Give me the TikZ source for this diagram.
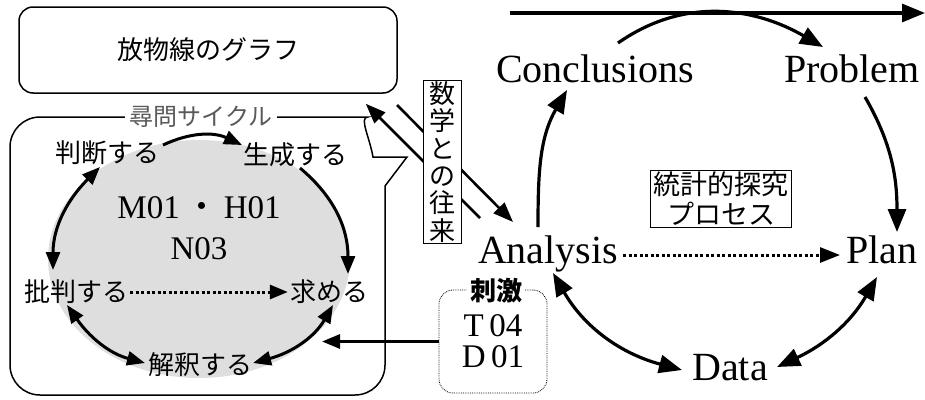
\documentclass[tikz,border=0pt]{standalone}
\usepackage{fontspec}
\setmainfont{Liberation Serif}
\newfontfamily\jp{Noto Sans CJK JP}
\usetikzlibrary{arrows.meta, positioning}

\tikzset{
  en/.style={font=\fontsize{40}{42}\selectfont, inner sep=0pt, anchor=base},
  ja/.style={font=\jp\fontsize{26}{28}\selectfont, inner sep=2pt},
  cyc/.style={line width=3pt, -{Triangle[length=18pt,width=14pt]}},
  cycb/.style={line width=3pt, {Triangle[length=18pt,width=14pt]}-{Triangle[length=18pt,width=14pt]}},
  big/.style={line width=3.2pt, -{Triangle[length=23pt,width=18pt]}},
  bigb/.style={line width=3.2pt, {Triangle[length=23pt,width=18pt]}-{Triangle[length=23pt,width=18pt]}},
  dots/.style={line width=3pt, dash pattern=on 3pt off 2.5pt, -{Triangle[length=18pt,width=14pt]}},
  diag/.style={line width=2.6pt, -{Triangle[length=20pt,width=15pt]}}
}

\begin{document}
\begin{tikzpicture}[x=1pt, y=1pt]
    \useasboundingbox (0,0) rectangle (925,-399);

    \node[ja, draw, line width=1.5pt, rounded corners=14pt, minimum width=378pt, minimum height=86pt] (para) at (208,-50) {放物線のグラフ};
    \draw[line width=1.5pt, rounded corners=30pt] (385,-250) -- (385,-395) -- (10,-395) -- (10,-117) -- (338,-117)
        [sharp corners] to[out=0, in=100] (373,-157) -- (407,-157) -- (385,-186) -- (385,-250);
    \node[font=\jp\fontsize{24}{26}\selectfont, text=black!65, fill=white, inner xsep=5pt, inner ysep=1pt] (cyct) at (201,-117) {尋問サイクル};
    \fill[black!13] (199,-259) ellipse [x radius=151, y radius=119];

    \node[ja] (judge) at (107,-153) {判断する};
    \node[ja] (gen) at (295,-155) {生成する};
    \node[ja] (crit) at (76,-292) {批判する};
    \node[ja] (seek) at (329,-292) {求める};
    \node[ja] (interp) at (200,-365) {解釈する};
    \node[font=\fontsize{33}{41}\selectfont, align=center] (codes) at (199,-228) {M01\,{\jp ・}\,H01\\N03};

    \draw[cyc] ([shift={(56,8)}]judge.center) to[bend left=25] ([shift={(-53,10)}]gen.center);
    \draw[cyc] ([shift={(5,-13)}]gen.center) to[out=-40, in=90] ([shift={(19,18)}]seek.center);
    \draw[cycb] ([shift={(-7,-14)}]judge.center) to[out=-135, in=90] ([shift={(-23,22)}]crit.center);
    \draw[cycb] ([shift={(-9,-13)}]crit.center) to[out=-55, in=165] ([shift={(-55,2)}]interp.center);
    \draw[cycb] ([shift={(4,-13)}]seek.center) to[out=-120, in=15] ([shift={(53,2)}]interp.center);
    \draw[dots] (crit.east) -- (seek.west);

    \node[en] (concl) at (595,-82) {Conclusions};
    \node[en] (prob) at (852,-82) {Problem};
    \node[en] (anal) at (548,-263) {Analysis};
    \node[en] (plan) at (882,-263) {Plan};
    \node[en] (data) at (730,-380) {Data};
    \node[ja, draw, line width=0.8pt, align=center, font=\jp\fontsize{27}{30}\selectfont, inner xsep=3pt, inner ysep=2pt] (stat) at (721,-199) {統計的探究\\プロセス};

    \coordinate (tl) at (510,-13);
    \coordinate (tr) at (925,-13);
    \draw[big] (tl) -- (tr);
    \draw[big] ([shift={(23,39)}]concl.base) to[out=35, in=150] ([shift={(-29,35)}]prob.base);
    \draw[big] ([shift={(13,-15)}]prob.base) to[out=-60, in=90] ([shift={(15,31)}]plan.base);
    \draw[big] ([shift={(-10,36)}]anal.base) to[out=90, in=-120] ([shift={(-28,-8)}]concl.base);
    \draw[bigb] ([shift={(5,-10)}]anal.base) to[out=-60, in=165] ([shift={(-48,10)}]data.base);
    \draw[bigb] ([shift={(-5,-14)}]plan.base) to[out=-120, in=25] ([shift={(47,13)}]data.base);
    \draw[dots, -{Triangle[length=20pt,width=15pt]}] ([shift={(75,8)}]anal.base) -- ([shift={(-42,8)}]plan.base);

    \coordinate (dgA) at (397,-105);
    \coordinate (dgB) at (480,-218);
    \draw[diag] (dgA) -- ([shift={(-35,41)}]anal.base);
    \draw[diag] (dgB) -- ([shift={(-32,-10)}]para.south east);
    \node[draw, fill=white, line width=1pt, align=center, font=\jp\fontsize{26}{27.3}\selectfont, inner xsep=6pt, inner ysep=1.5pt] (mathx) at (442.5,-162) {数\\学\\と\\の\\往\\来};

    \node[draw, densely dotted, line width=0.8pt, rounded corners=14pt, minimum width=108pt, minimum height=103pt, align=center, font=\fontsize{33}{31}\selectfont] (stimbox) at (493,-341.5) {T\,04\\D\,01};
    \node[font=\jp\bfseries\fontsize{26}{28}\selectfont, fill=white, inner xsep=3pt, inner ysep=1pt] (stim) at (496,-291) {刺激};
    \coordinate (cycin) at (322,-341.5);
    \draw[cyc] (stimbox.west) -- (cycin);
\end{tikzpicture}
\end{document}
